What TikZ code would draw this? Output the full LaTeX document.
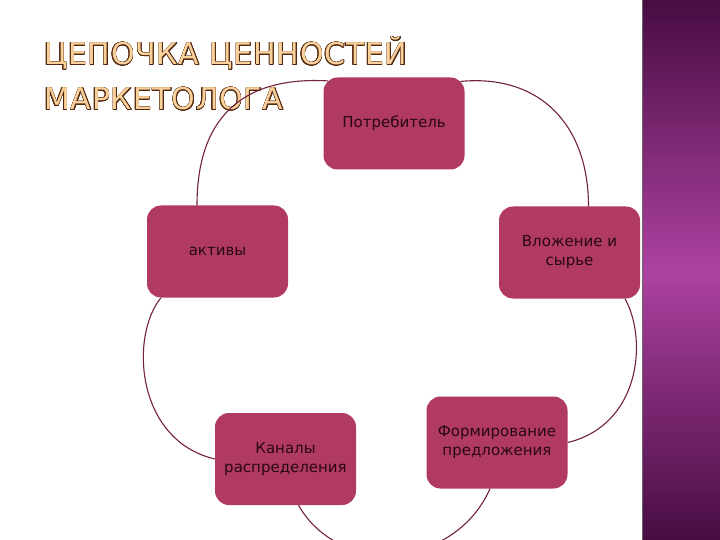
\documentclass[tikz,border=0pt]{standalone}
\usepackage{fontspec}
\setmainfont{DejaVu Sans}
\newfontfamily\headingfont[LetterSpace=2.5]{DejaVu Sans}
\usepackage[copies]{contour}
\contourlength{0.55pt}
\definecolor{boxred}{RGB}{177,58,96}
\definecolor{arcred}{RGB}{115,35,60}
\definecolor{inktext}{RGB}{40,8,18}
\definecolor{titlefill}{RGB}{250,208,155}
\definecolor{titleline}{RGB}{80,40,15}
\definecolor{plumdark}{RGB}{72,12,66}
\definecolor{plumlight}{RGB}{172,66,160}

\begin{document}
\begin{tikzpicture}[x=1pt,y=-1pt,
  box/.style={fill=boxred, rounded corners=14pt, minimum width=141pt, minimum height=92pt,
    inner sep=0pt, align=center, text=inktext, font=\fontsize{15}{19}\selectfont},
  cycle/.style={draw=arcred, line width=1.1pt},
  heading/.style={anchor=base west, inner sep=0pt, text=titlefill, font=\headingfont\fontsize{30}{36}\selectfont}]
\useasboundingbox (0,0) rectangle (720,540);
\fill[white] (0,0) rectangle (720,540);

% Side band
\shade[top color=plumdark, bottom color=plumdark, middle color=plumlight] (642,0) rectangle (720,540);
\draw[black!60, line width=0.8pt] (642,0) -- (642,540);

% Title
\node[heading] (title1) at (44,65) {\contour{titleline}{ЦЕПОЧКА ЦЕННОСТЕЙ}};
\node[heading] (title2) at (44,110) {\contour{titleline}{МАРКЕТОЛОГА}};

% Boxes
\node[box] (potreb) at (394,123.5) {Потребитель};
\node[box] (aktivy) at (217.5,251.5) {активы};
\node[box] (vlozh) at (569.5,252.5) {Вложение и\\сырье};
\node[box] (kanaly) at (285.5,459) {Каналы\\распределения};
\node[box] (form) at (497,442.5) {Формирование\\предложения};

% Cycle arcs
\begin{scope}
\clip (0,0) rectangle (720,540);
\draw[cycle] ([xshift=-20.5pt]aktivy.north) .. controls (197,120) and (240,76) .. ([xshift=4.6pt,yshift=-3.6pt]potreb.north west);
\draw[cycle] ([xshift=-4.1pt,yshift=-4.1pt]potreb.north east) .. controls (540,74) and (588.5,125) .. ([xshift=19pt]vlozh.north);
\draw[cycle] ([xshift=55.5pt]vlozh.south) .. controls (648,340) and (640,425) .. (form.east);
\draw[cycle] ([xshift=13pt]kanaly.south) .. controls (340,578) and (455,568) .. ([xshift=-7pt]form.south);
\draw[cycle] ([xshift=-56.5pt]aktivy.south) .. controls (130,335) and (135,440) .. (kanaly.west);
\end{scope}
\end{tikzpicture}
\end{document}
